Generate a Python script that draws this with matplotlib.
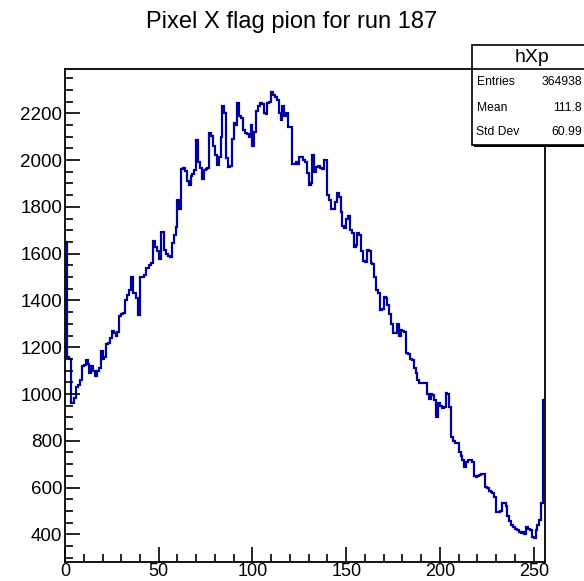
import numpy as np
import matplotlib
matplotlib.use("Agg")
import matplotlib.pyplot as plt
from matplotlib.patches import Rectangle
from matplotlib.lines import Line2D
from matplotlib.ticker import MultipleLocator

plt.rcParams['font.family'] = ['Liberation Sans', 'DejaVu Sans']

title = "Pixel X flag pion for run 187"
hist_name = "hXp"
stat_labels = ["Entries", "Mean", "Std Dev"]
stat_values = ["364938", "111.8", "60.99"]

counts = [
    1650, 1160, 1150, 960, 960, 985, 1030, 1040, 1060, 1120,
    1125, 1145, 1130, 1090, 1120, 1100, 1075, 1100, 1110, 1185,
    1150, 1160, 1215, 1220, 1238, 1270, 1260, 1250, 1265, 1335,
    1340, 1345, 1400, 1425, 1445, 1500, 1432, 1430, 1410, 1338,
    1500, 1500, 1510, 1537, 1540, 1552, 1560, 1655, 1630, 1610,
    1575, 1694, 1694, 1616, 1600, 1590, 1587, 1644, 1680, 1715,
    1830, 1790, 1960, 1965, 1955, 1910, 1893, 1930, 1940, 1958,
    2086, 1990, 1965, 1920, 1958, 1960, 1965, 2115, 2105, 2060,
    2020, 1980, 2015, 2100, 2230, 2200, 2010, 1972, 1975, 2090,
    2157, 2150, 2243, 2190, 2180, 2130, 2115, 2110, 2100, 2150,
    2060, 2120, 2210, 2230, 2243, 2240, 2200, 2195, 2243, 2250,
    2293, 2280, 2270, 2257, 2200, 2170, 2230, 2190, 2200, 2143,
    2140, 1985, 1985, 1990, 1985, 2015, 2015, 2000, 1990, 1944,
    1894, 1900, 2020, 1950, 1972, 1975, 1965, 1960, 2000, 2000,
    1850, 1830, 1790, 1790, 1820, 1860, 1840, 1780, 1720, 1710,
    1750, 1760, 1700, 1690, 1630, 1635, 1690, 1680, 1610, 1570,
    1565, 1615, 1610, 1560, 1555, 1500, 1445, 1430, 1360, 1365,
    1416, 1410, 1380, 1340, 1300, 1260, 1262, 1300, 1250, 1272,
    1270, 1265, 1175, 1170, 1150, 1145, 1110, 1090, 1060, 1045,
    1045, 1045, 1045, 1000, 980, 1000, 995, 975, 900, 960,
    950, 940, 945, 1003, 1000, 946, 818, 800, 790, 790,
    750, 735, 720, 690, 710, 718, 718, 710, 650, 647,
    650, 655, 660, 660, 604, 600, 585, 580, 575, 560,
    495, 497, 500, 535, 533, 520, 480, 455, 440, 430,
    425, 420, 410, 405, 410, 400, 430, 425, 418, 390,
    385, 420, 440, 460, 535, 975,
]
edges = np.arange(len(counts) + 1)

W, H = 584, 581
fig = plt.figure(figsize=(W / 100, H / 100), dpi=100)
fig.patch.set_facecolor('white')

L, R, T, B = 65, 545, 69.3, 561.5
ax = fig.add_axes([L / W, 1 - B / H, (R - L) / W, (B - T) / H])
ax.stairs(counts, edges, baseline=None, color='#00009a', linewidth=1.6)
ax.set_xlim(0, 256)
ax.set_ylim(284, 2388)

ax.xaxis.set_major_locator(MultipleLocator(50))
ax.xaxis.set_minor_locator(MultipleLocator(10))
ax.yaxis.set_major_locator(MultipleLocator(200))
ax.yaxis.set_minor_locator(MultipleLocator(50))
ax.tick_params(which='both', direction='in', top=False, right=False,
               width=1.2, colors='black')
ax.tick_params(axis='y', labelsize=13.5, pad=2)
ax.tick_params(axis='x', labelsize=13, pad=1)
ax.tick_params(which='major', length=11)
ax.tick_params(which='minor', length=6)
for s in ax.spines.values():
    s.set_linewidth(1.3)

fig.text(0.5, 1 - 22 / H, title, ha='center', va='center', fontsize=17)

# stats box (pixel coordinates -> figure fraction)
def fx(x):
    return x / W

def fy(y):
    return 1 - y / H

bx0, bx1, by0, by1, bsep = 471.7, 592, 45, 145, 69.3
fig.patches.append(Rectangle((fx(bx0 + 2), fy(by1 + 2)), fx(bx1 - bx0), fy(by0) - fy(by1),
                             transform=fig.transFigure, facecolor='black',
                             edgecolor='none', zorder=5))
fig.patches.append(Rectangle((fx(bx0), fy(by1)), fx(bx1 - bx0), fy(by0) - fy(by1),
                             transform=fig.transFigure, facecolor='white',
                             edgecolor='black', linewidth=1.2, zorder=6))
fig.lines.append(Line2D([fx(bx0), fx(bx1)], [fy(bsep), fy(bsep)],
                        transform=fig.transFigure, color='black', linewidth=1.2, zorder=7))
fig.text(fx(531.5), fy(57), hist_name, ha='center', va='center', fontsize=14, zorder=8)
rows_y = [81.7, 108.3, 131.7]
for lab, val, yy in zip(stat_labels, stat_values, rows_y):
    fig.text(fx(476.5), fy(yy), lab, ha='left', va='center', fontsize=8.7, zorder=8)
    fig.text(fx(582), fy(yy), val, ha='right', va='center', fontsize=8.7, zorder=8)

fig.savefig('out.png', dpi=100)
